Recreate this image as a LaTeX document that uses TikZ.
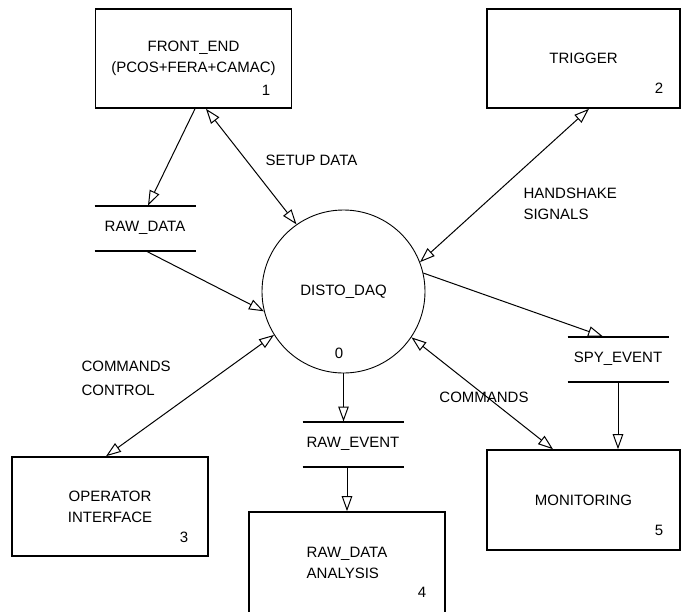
\documentclass[tikz,border=0pt]{standalone}
\usepackage{fontspec}
\setmainfont{Liberation Sans}
\usetikzlibrary{arrows.meta}

\tikzset{every picture/.style={line width=1pt}}
\tikzset{
  proc/.style={draw, line width=1.6pt, minimum width=196pt, minimum height=99pt, inner sep=0pt, align=center},
  store/.style={minimum width=100pt, minimum height=44pt, inner sep=0pt},
  storeline/.style={line width=2pt},
  flow/.style={-{Triangle[open,length=15pt,width=10.5pt]}},
  twoway/.style={{Triangle[open,length=15pt,width=10.5pt]}-{Triangle[open,length=15pt,width=10.5pt]}},
  lbl/.style={inner sep=0pt, anchor=west, align=left},
  num/.style={inner sep=0pt}
}

\begin{document}
\begin{tikzpicture}[x=1pt,y=1pt,yscale=-1,font=\fontsize{15}{21}\selectfont]
\useasboundingbox (0,0) rectangle (688,611);

%Process bubble
\node [draw, circle, line width=0.9pt, minimum size=163pt, inner sep=0pt] (daq) at (343.5,291.5) {DISTO\_DAQ};
\node [num] (n0) at (339,353) {0};

%Boxes
\node [proc] (fe) at (193.5,58.5) {FRONT\_END\\(PCOS+FERA+CAMAC)};
\node [proc, minimum width=193pt] (trig) at (583.5,58.5) {TRIGGER};
\node [proc] (op) at (110,506.5) {OPERATOR\\INTERFACE};
\node [proc, align=left, minimum height=102pt] (ana) at (347,563) {RAW\_DATA\hspace{10pt}\\ANALYSIS\hspace{10pt}};
\node [proc, minimum width=193pt, minimum height=100pt] (mon) at (583.5,500) {MONITORING};

% Box numbers
\node [num] (n1) at (266,90) {1};
\node [num] (n2) at (659,88) {2};
\node [num] (n3) at (184,537) {3};
\node [num] (n4) at (422,592) {4};
\node [num] (n5) at (659,530) {5};

%Data stores
\node [store] (rd) at (145,228) {RAW\_DATA};
\node [store] (re) at (353,444) {RAW\_EVENT};
\node [store] (sp) at (618,359) {SPY\_EVENT};
\foreach \s in {rd,re,sp}{
  \draw [storeline] (\s.north west) -- (\s.north east) (\s.south west) -- (\s.south east);
}

%Flows
\draw [flow] ([xshift=1.5pt]fe.south) -- ([xshift=3pt]rd.north);
\draw [twoway] ([xshift=12.5pt]fe.south) -- (daq.125.5);
\draw [flow] (rd.south) -- (daq.194);
\draw [twoway] ([xshift=5.5pt]trig.south) -- (daq.21);
\draw [flow] (daq.13) -- ([xshift=-15pt]sp.north);
\draw [flow] (sp.south) -- (sp.south |- mon.north);
\draw [twoway] (daq.326) -- ([xshift=-30.5pt]mon.north);
\draw [flow] (daq.south) -- (daq.south |- re.north);
\draw [flow] (re.south -| ana.north) -- (ana.north);
\draw [twoway] (daq.212.8) -- ([xshift=-4pt]op.north);

% Text Node
\node [lbl] (setup) at (265,160) {SETUP DATA};
% Text Node
\node [lbl] (hand) at (523,203.5) {HANDSHAKE\\SIGNALS};
% Text Node
\node [lbl] (cmdctl) at (81,378) {COMMANDS\\[3pt]CONTROL};
% Text Node
\node [inner sep=0pt] (cmd) at (484,397) {COMMANDS};

\end{tikzpicture}
\end{document}
